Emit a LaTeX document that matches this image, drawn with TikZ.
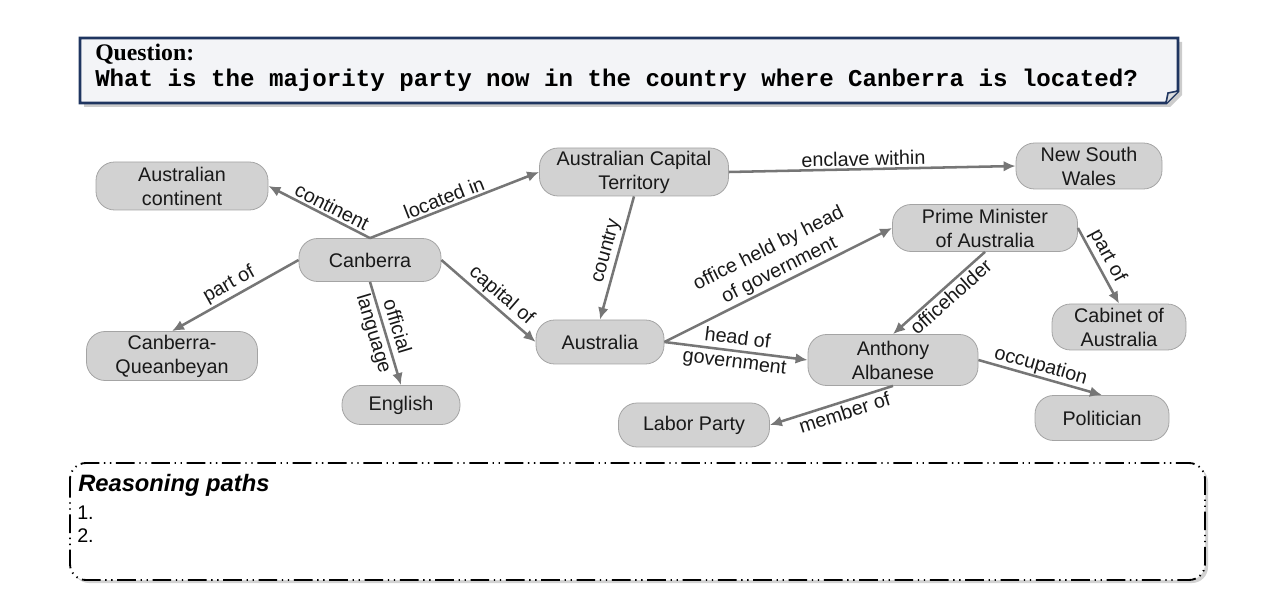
\documentclass[tikz,border=0pt]{standalone}
\usepackage{fontspec}
\setmainfont{Liberation Sans}
\newfontfamily\qserif{Liberation Serif}
\newfontfamily\qmono{Liberation Mono}
\usetikzlibrary{arrows.meta}
\definecolor{nodefill}{HTML}{D2D2D2}
\definecolor{nodeborder}{HTML}{A4A4A4}
\definecolor{edgec}{HTML}{767676}
\definecolor{qborder}{HTML}{1F3560}
\definecolor{qfill}{HTML}{F3F4F7}
\newcommand\nodefont{\fontsize{14.8}{18}\selectfont}
\tikzset{
  ent/.style={draw=nodeborder, fill=nodefill, rounded corners=14pt, inner sep=0pt,
    align=center, font=\nodefont, line width=0.6pt, text=black!90},
  sz/.style 2 args={minimum width=#1*0.75pt, minimum height=#2*0.75pt},
  rel/.style={draw=edgec, line width=1.9pt, -{Latex[length=9pt,width=8pt]}},
  lbl/.style={font=\nodefont, sloped, inner sep=1.5pt, align=center, text=black!90},
}
\begin{document}
\begin{tikzpicture}[x=0.75pt, y=-0.75pt]
\useasboundingbox (0,0) rectangle (1264,609);
% question box
\fill[black!40, opacity=0.5] (84,42) -- (1182,42) -- (1182,95) -- (1170,107) -- (84,107) -- cycle;
\draw[draw=qborder, fill=qfill, line width=2.2pt] (80,38) -- (1178,38) -- (1178,91) -- (1166,103) -- (80,103) -- cycle;
\draw[draw=qborder, fill=qfill!80!gray, line width=1.2pt] (1166,103) -- (1168,93) -- (1178,91);
\node[anchor=base west, inner sep=0pt, font=\qserif\bfseries\fontsize{17.8}{20}\selectfont] (qlabel) at (95,61) {Question:};
\node[anchor=base west, inner sep=0pt, font=\qmono\bfseries\fontsize{18.1}{20}\selectfont] (qtext) at (95,87) {What is the majority party now in the country where Canberra is located?};
% entities
\node[ent, sz={172}{48}] (cont) at (182,186) {Australian\\continent};
\node[ent, sz={189}{48}] (act) at (634,172) {Australian Capital\\Territory};
\node[ent, sz={146}{46}] (nsw) at (1089,166) {New South\\Wales};
\node[ent, sz={142}{43}] (can) at (370,260) {Canberra};
\node[ent, sz={185}{47}] (pm) at (985,228) {Prime Minister\\of Australia};
\node[ent, sz={134}{46}] (cab) at (1119,327) {Cabinet of\\Australia};
\node[ent, sz={171}{49}] (cq) at (172,356) {Canberra-\\Queanbeyan};
\node[ent, sz={128}{44}] (aus) at (600,342) {Australia};
\node[ent, sz={170}{51}] (alb) at (893,360) {Anthony\\Albanese};
\node[ent, sz={118}{39}] (eng) at (401,405) {English};
\node[ent, sz={151}{44}] (lab) at (694,425) {Labor Party};
\node[ent, sz={134}{45}] (pol) at (1102,418) {Politician};
% relations
\draw[rel] (can.north) -- node[lbl, above, pos=0.42] (l1) {continent} (cont.east);
\draw[rel] (can.north) -- node[lbl, above, pos=0.46] (l2) {located in} (act.west);
\draw[rel] (act.east) -- node[lbl, above, pos=0.47] (l3) {enclave within} (nsw.west);
\draw[rel] (can.west) -- node[lbl, above, pos=0.5] (l4) {part of} (cq.north);
\draw[rel] (can.south) -- node[lbl, pos=0.47] (l5) {official\\language} (eng.north);
\draw[rel] (can.east) -- node[lbl, above, pos=0.55] (l6) {capital of} (aus.west);
\draw[rel] (act.south) -- node[lbl, above, pos=0.47] (l7) {country} (aus.north);
\draw[rel] (aus.east) -- node[lbl, above, pos=0.53] (l8) {office held by head\\of government} (pm.west);
\draw[rel] (aus.east) -- node[lbl, pos=0.5] (l9) {head of\\government} (alb.west);
\draw[rel] (pm.south) -- node[lbl, below, pos=0.45] (l10) {officeholder} (alb.north);
\draw[rel] (pm.east) -- node[lbl, above, pos=0.45] (l11) {part of} (cab.north);
\draw[rel] (alb.east) -- node[lbl, above, pos=0.48, inner sep=0.5pt] (l12) {occupation} (pol.north);
\draw[rel] (alb.south) -- node[lbl, below, pos=0.42] (l13) {member of} (lab.east);
% reasoning box
\fill[black!35, opacity=0.5, rounded corners=12pt] (73,466) rectangle (1208,583);
\draw[fill=white, rounded corners=12pt, line width=1.4pt, dash pattern=on 14pt off 3.5pt on 1pt off 3.5pt on 1pt off 3.5pt] (70,463) rectangle (1205,580);
\node[anchor=base west, inner sep=0pt, font=\bfseries\itshape\fontsize{17.8}{20}\selectfont] (rp) at (78,492) {Reasoning paths};
\node[anchor=base west, inner sep=0pt, font=\fontsize{14.8}{18}\selectfont] (r1) at (77,519) {1.};
\node[anchor=base west, inner sep=0pt, font=\fontsize{14.8}{18}\selectfont] (r2) at (77,542) {2.};
\end{tikzpicture}
\end{document}
